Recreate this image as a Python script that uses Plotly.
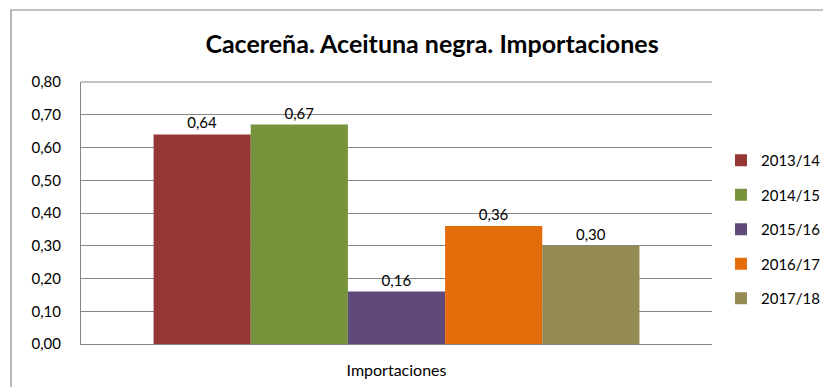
import plotly.graph_objects as go

categories = ["Importaciones"]
seasons = ["2013/14", "2014/15", "2015/16", "2016/17", "2017/18"]
values = [0.64, 0.67, 0.16, 0.36, 0.30]
colors = ["#953735", "#77933C", "#604A7B", "#E46C0A", "#948A54"]
title_text = "Cacereña. Aceituna negra. Importaciones"

FONT = "Lato"
OFF = 8  # page body margin
W, H = 831 - OFF, 387 - OFF
ml, mt = 81 - OFF, 82 - OFF
mr, mb = 119, 43
pw = W - ml - mr
ph = H - mt - mb

fig = go.Figure()
for i, (s, v, c) in enumerate(zip(seasons, values, colors)):
    fig.add_trace(go.Bar(
        x=categories, y=[v], name=s, marker=dict(color=c, line=dict(width=0)),
        texttemplate="%{y:.2f}", textposition="outside",
        textfont=dict(family=FONT, size=15, color="#000000"),
        cliponaxis=False, legendgroup=s,
    ))

fig.update_layout(
    width=W, height=H,
    margin=dict(l=ml, r=mr, t=mt, b=mb, pad=0, autoexpand=False),
    paper_bgcolor="white", plot_bgcolor="white",
    separators=",.",
    barmode="group", bargap=0.23, bargroupgap=0,
    font=dict(family=FONT, size=15, color="#000000"),
    title=dict(text="<b>" + title_text + "</b>", x=(432 - OFF) / W, xanchor="center",
               y=1 - (44 - OFF) / H, yanchor="middle",
               font=dict(family=FONT, size=25, color="#000000")),
    showlegend=True,
    legend=dict(xref="container", yref="container",
                x=(721 - OFF) / W, xanchor="left", y=1 - (144 - OFF) / H, yanchor="top",
                traceorder="grouped", tracegroupgap=12,
                font=dict(family=FONT, size=15, color="#000000"),
                bgcolor="rgba(0,0,0,0)", borderwidth=0),
    xaxis=dict(showgrid=False, showline=True, linecolor="#868686", linewidth=1,
               ticks="", ticklabelstandoff=12, automargin=False,
               tickfont=dict(family=FONT, size=16)),
    yaxis=dict(range=[0, 0.8], dtick=0.1, tickformat=".2f",
               showgrid=True, gridcolor="#868686", gridwidth=1,
               showline=True, linecolor="#868686", linewidth=1,
               zeroline=False, ticks="", ticklabelstandoff=16, automargin=False,
               tickfont=dict(family=FONT, size=15)),
    shapes=[dict(type="rect", xref="paper", yref="paper",
                 x0=(11 - 81) / pw, x1=1.5, y0=-0.6, y1=1 + (82 - 10) / ph,
                 line=dict(color="#868686", width=1.2), fillcolor="rgba(0,0,0,0)",
                 layer="below"),
            dict(type="line", xref="paper", yref="paper", x0=0, x1=1, y0=1, y1=1,
                 line=dict(color="#868686", width=1))],
)

fig.write_html("out.html")
